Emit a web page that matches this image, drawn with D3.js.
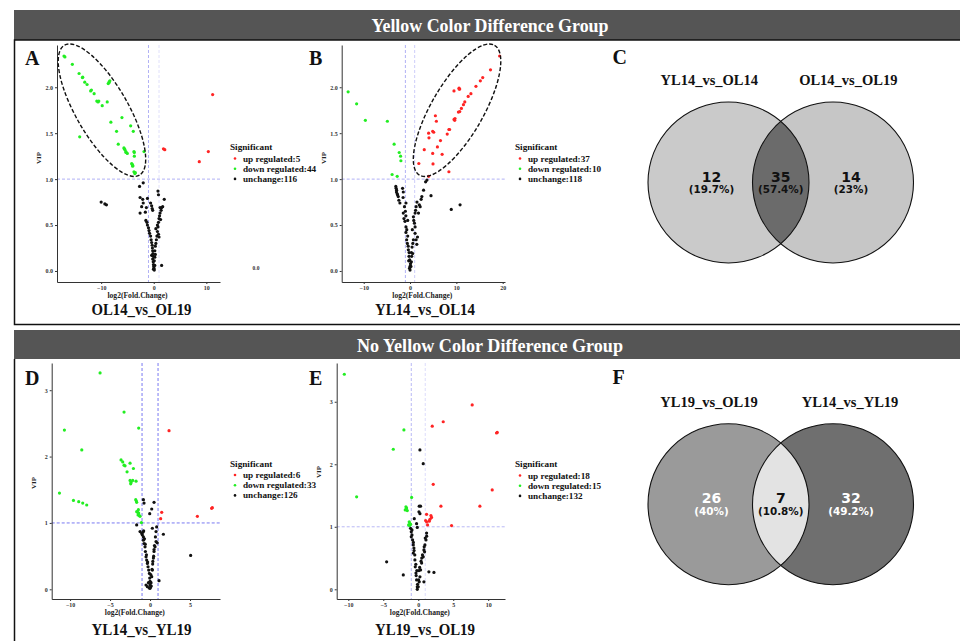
<!DOCTYPE html>
<html>
<head>
<meta charset="utf-8">
<script src="https://cdn.jsdelivr.net/npm/d3@7/dist/d3.min.js"></script>
<style>
body { margin: 0; background: #fff; }
svg text { font-family: "Liberation Serif", "Times New Roman", serif; font-weight: bold; }
svg text.venn-num { font-family: "DejaVu Sans", sans-serif; }
</style>
</head>
<body>
<svg id="chart" width="960" height="641"></svg>
<script>
// ---- data ----
var groupTitles = ['Yellow Color Difference Group', 'No Yellow Color Difference Group']
var legendLabels = ['up regulated', 'down regulated', 'unchange']
var legendColors = ['#ff2424', '#22ee22', '#111111']

// A: OL14_vs_OL19
var countsA = [5, 44, 116]
var xTicksA = [-10, 0, 10]
var yTicksA = [0, 0.5, 1, 1.5, 2]
var upA = [[11.2,1.92],[1.85,1.33],[2.1,1.32],[8.66,1.19],[10.38,1.30]]
var downA = [[-17.07,2.34],[-16.9,2.33],[-15.48,2.25],[-14.2,2.15],[-13.57,2.105],[-13.5,2.11],[-13.12,2.055],[-12.68,2.03],
    [-12.0,1.96],[-11.85,1.97],[-11.34,1.93],[-10.83,1.85],[-10.6,1.84],[-10.45,1.85],[-9.8,1.8],[-8.85,1.84],[-8.66,2.04],
    [-8.5,2.05],[-8.47,2.06],[-8.34,2.07],[-8.15,1.62],[-7.07,1.52],[-6.75,1.38],[-6.05,1.67],[-5.67,1.34],[-5.6,1.33],
    [-5.48,1.32],[-5.3,1.30],[-5.29,1.29],[-5.03,1.28],[-4.39,1.58],[-4.2,1.17],[-4.1,1.16],[-4.01,1.14],[-4.0,1.15],
    [-3.89,1.52],[-3.76,1.30],[-3.7,1.29],[-3.69,1.25],[-3.76,1.08],[-3.6,1.06],[-3.5,1.07],[-1.85,1.30],[-14.08,1.46]]
var stableA = [[-2.7,0.92],[-2.0,0.96],[-2.6,0.80],[-2.1,0.78],[-1.2,0.79],[-2.0,0.74],[-2.3,0.70],[-2.6,0.63],[-1.6,0.64],
    [-1.4,0.69],[-0.6,0.74],[-0.4,0.71],[-0.3,0.68],[-0.2,0.66],[-1.5,0.55],[-1.3,0.53],[-1.2,0.50],[-1.0,0.47],[-0.9,0.44],
    [-0.8,0.41],[-0.6,0.38],[-0.5,0.34],[-0.4,0.31],[-0.3,0.28],[-0.25,0.25],[-0.2,0.22],[-0.15,0.19],[-0.1,0.16],[-0.2,0.13],
    [-0.1,0.10],[-0.05,0.07],[0,0.05],[0.05,0.03],[-0.05,0.02],[0.1,0.01],[0.2,0.06],[0.1,0.11],[0.2,0.15],[0.3,0.18],
    [0.2,0.22],[0.3,0.27],[0.4,0.30],[0.5,0.34],[0.6,0.38],[0.7,0.43],[0.8,0.48],[0.9,0.53],[1.0,0.57],[1.1,0.60],[1.2,0.63],
    [1.4,0.66],[1.5,0.69],[1.7,0.70],[0.9,0.40],[1.0,0.37],[1.2,0.69],[0.8,0.87],[0.9,0.83],[2.0,0.78],[1.3,0.56],[0.7,0.50],
    [0.4,0.46],[1.5,0.06],[-0.4,0.17],[-10.0,0.75],[-9.3,0.73],[-9.0,0.72]]

// B: YL14_vs_OL14
var countsB = [37, 10, 118]
var xTicksB = [-10, 0, 10, 20]
var yTicksB = [0, 0.5, 1, 1.5, 2]
var upB = [[19.34,2.34],[17.37,2.19],[15.69,2.105],[15.18,2.07],[14.23,2.01],[13.14,1.93],[12.55,1.90],[11.82,1.84],
    [11.53,1.81],[11.09,1.77],[10.73,1.735],[10.44,1.73],[9.71,1.66],[9.64,1.64],[9.5,1.65],[9.49,1.96],[10.58,1.99],
    [10.6,1.98],[10.73,1.98],[8.39,1.54],[8.54,1.54],[8.03,1.49],[6.57,1.42],[5.91,1.35],[6.93,1.27],[5.47,1.69],[5.69,1.63],
    [4.89,1.52],[5.11,1.51],[4.01,1.50],[4.09,1.45],[3.07,1.32],[4.89,1.28],[4.96,1.165],[1.9,1.17],[4.01,1.03],[8.39,1.08]]
var downB = [[-13.36,1.95],[-11.53,1.82],[-9.64,1.64],[-4.89,1.63],[-3.43,1.38],[-2.34,1.29],[-2.04,1.25],[-1.97,1.20],
    [-3.87,1.05],[-2.77,1.03]]
var stableB = [[-3.07,0.92],[-2.92,0.86],[-2.77,0.84],[-2.55,0.81],[-2.41,0.77],[-2.19,0.74],[-1.61,0.90],[-1.46,0.86],
    [-0.88,0.74],[-1.46,0.63],[-1.31,0.57],[-1.09,0.54],[-0.88,0.48],[-0.88,0.42],[-0.73,0.34],[-0.58,0.30],[-0.36,0.23],
    [-0.22,0.16],[-0.07,0.12],[0,0.05],[0,0.01],[-0.29,0.11],[0.29,0.10],[0.36,0.16],[0.73,0.59],[0.95,0.52],[1.09,0.48],
    [1.09,0.41],[1.31,0.34],[1.46,0.29],[1.61,0.37],[1.82,0.63],[2.19,0.70],[2.55,0.81],[2.92,0.88],[3.36,0.97],[3.65,0.99],
    [1.09,0.63],[1.31,0.70],[4.53,0.82],[8.9,0.67],[10.8,0.72],[0.73,0.34],[0.58,0.19],[0.44,0.26],[-2.9,0.88],[-2.7,0.83],
    [-1.5,0.80],[-1.2,0.70],[-1.0,0.65],[-0.9,0.60],[-0.7,0.45],[-0.5,0.38],[-0.4,0.27],[-0.2,0.20],[0.2,0.05],[0.1,0.08],
    [-0.1,0.03],[0.5,0.45],[0.8,0.55],[1.2,0.66],[1.5,0.75],[2.0,0.72],[0.6,0.30],[0.3,0.20],[-3.0,0.90],[2.4,0.78],[-0.5,0.55]]

// D: YL14_vs_YL19
var countsD = [6, 33, 126]
var xTicksD = [-10, -5, 0, 5]
var yTicksD = [0, 1, 2, 3]
var upD = [[2.375,2.39],[1.46,1.16],[1.33,1.065],[5.92,1.10],[7.79,1.23],[7.7,1.22]]
var downD = [[-6.25,3.26],[-3.25,2.67],[-1.42,2.43],[-10.71,2.40],[-8.54,2.10],[-11.33,1.45],[-9.58,1.34],[-8.92,1.32],
    [-8.42,1.30],[-7.92,1.27],[-3.625,1.95],[-3.42,1.92],[-3.25,1.87],[-3.125,1.86],[-2.875,1.77],[-2.5,1.90],[-2.08,1.82],
    [-2.5,1.64],[-2.375,1.61],[-2.17,1.64],[-1.75,1.63],[-2.42,1.59],[-1.79,1.35],[-1.67,1.31],[-1.71,1.33],[-1.46,1.20],
    [-1.67,1.17],[-1.42,1.15],[-1.54,1.16],[-1.33,1.11],[-1.25,1.10],[-1.08,1.005],[-1.5,1.12]]
var stableD = [[-0.83,1.35],[-0.75,1.30],[0.5,1.31],[0.21,1.21],[-0.04,1.14],[-1.67,0.97],[-1.25,0.87],[-1.04,0.84],
    [-0.96,0.82],[-0.83,0.79],[-0.83,0.74],[-0.75,0.69],[-0.625,0.64],[-0.58,0.57],[-0.5,0.49],[-0.42,0.44],[-0.33,0.39],
    [-0.25,0.34],[-0.17,0.29],[-0.08,0.24],[-0.04,0.17],[0,0.12],[0,0.07],[0,0.015],[0.08,0.04],[0.83,0.94],[0.75,0.87],
    [0.67,0.79],[0.75,0.72],[0.625,0.64],[0.5,0.57],[0.42,0.47],[0.33,0.38],[0.29,0.29],[0.21,0.19],[0.125,0.10],[0.29,0.92],
    [1.67,0.83],[5.08,0.51],[1.125,0.13],[-0.5,0.065],[-0.33,0.04],[-0.9,0.86],[-0.7,0.76],[-0.6,0.68],[-0.45,0.52],
    [-0.3,0.41],[0.5,0.60],[0.55,0.66],[0.35,0.42],[0.25,0.30],[0.1,0.22],[-0.2,0.10],[0.15,0.05],[-0.1,0.02],[0.9,0.70],
    [0.45,0.50],[-0.8,0.88]]

// E: YL19_vs_OL19
var countsE = [18, 15, 132]
var xTicksE = [-10, -5, 0, 5, 10]
var yTicksE = [0, 1, 2, 3]
var upE = [[7.71,2.95],[3.57,2.68],[2.0,2.61],[11.29,2.51],[11.19,2.50],[2.14,1.68],[10.57,1.59],[8.81,1.33],[3.24,1.33],
    [4.76,1.02],[1.19,1.20],[1.81,1.18],[1.9,1.15],[1.67,1.12],[1.19,1.08],[1.33,1.03],[1.05,1.10],[1.57,1.09]]
var downE = [[-10.57,3.44],[-8.81,1.48],[-2.05,2.55],[-3.57,2.24],[-1.76,1.32],[-1.67,1.30],[-1.86,1.27],[-1.57,1.26],
    [-1.71,1.29],[-1.19,1.05],[-1.38,1.03],[-1.29,1.08],[-1.10,1.04],[-0.95,1.47],[-1.24,1.02]]
var stableE = [[0.24,2.23],[0.71,2.01],[0.14,1.33],[0.33,1.33],[0.1,1.24],[-0.24,1.05],[-0.57,1.13],[0.24,1.21],[-0.14,0.99],
    [-1.1,0.975],[-1.0,0.92],[-0.9,0.87],[-0.81,0.79],[-0.71,0.71],[-0.62,0.66],[-0.71,0.58],[-0.48,0.47],[-0.43,0.36],
    [-0.33,0.26],[-0.24,0.15],[-0.14,0.04],[-0.14,0.0],[1.19,0.90],[1.1,0.79],[0.95,0.71],[0.81,0.63],[0.71,0.52],[0.48,0.42],
    [0.33,0.31],[0.24,0.20],[0.14,0.12],[0,0.04],[-4.52,0.44],[-2.14,0.23],[1.52,0.28],[2.24,0.27],[0.81,0.12],[-0.9,0.95],
    [-0.7,0.75],[-0.5,0.55],[-0.35,0.40],[-0.2,0.30],[0.1,0.30],[0.2,0.35],[0.5,0.50],[0.6,0.55],[0.85,0.68],[1.0,0.82],
    [-0.1,0.08],[0.05,0.15],[-0.3,0.22],[0.4,0.45],[-0.6,0.62],[-1.0,0.84],[0.9,0.60],[1.2,0.85]]

// Venn diagrams
var vennNamesC = ['YL14_vs_OL14', 'OL14_vs_OL19']
var vennCountsC = [12, 35, 14]
var vennPercentsC = ['19.7%', '57.4%', '23%']
var vennNamesF = ['YL19_vs_OL19', 'YL14_vs_YL19']
var vennCountsF = [26, 7, 32]
var vennPercentsF = ['40%', '10.8%', '49.2%']

// ---- drawing ----
var svg = d3.select('#chart')

function drawFrame() {
    svg.append('rect').attr('x', 14).attr('y', 10).attr('width', 950).attr('height', 30).attr('fill', '#555')
    svg.append('rect').attr('x', 14).attr('y', 330).attr('width', 950).attr('height', 29).attr('fill', '#555')
    svg.append('rect').attr('x', 14.5).attr('y', 40).attr('width', 960).attr('height', 284.5)
        .attr('fill', 'none').attr('stroke', '#111').attr('stroke-width', 1.5)
    svg.append('line').attr('x1', 14.5).attr('x2', 14.5).attr('y1', 359).attr('y2', 641)
        .attr('stroke', '#111').attr('stroke-width', 1.5)
    svg.append('text').attr('x', 490).attr('y', 32).attr('text-anchor', 'middle')
        .attr('font-size', 19).attr('fill', '#fff').attr('textLength', 237).attr('lengthAdjust', 'spacingAndGlyphs')
        .text(groupTitles[0])
    svg.append('text').attr('x', 490).attr('y', 352).attr('text-anchor', 'middle')
        .attr('font-size', 19).attr('fill', '#fff').attr('textLength', 266).attr('lengthAdjust', 'spacingAndGlyphs')
        .text(groupTitles[1])
}

function panelLetter(letter, x, y) {
    svg.append('text').attr('x', x).attr('y', y).attr('font-size', 20).attr('fill', '#111').text(letter)
}

function drawVolcano(p) {
    var x = d3.scaleLinear().domain(p.xDomain).range(p.xRange)
    var y = d3.scaleLinear().domain(p.yDomain).range(p.yRange)
    var g = svg.append('g')
    var top = p.yRange[1], bottom = p.yRange[0]

    // thresholds
    g.append('line').attr('x1', x(-1)).attr('x2', x(-1)).attr('y1', top).attr('y2', bottom)
        .attr('stroke', p.lineColor).attr('stroke-dasharray', '3,2').attr('stroke-width', 0.9)
    g.append('line').attr('x1', x(1)).attr('x2', x(1)).attr('y1', top).attr('y2', bottom)
        .attr('stroke', p.lineColor2).attr('stroke-dasharray', '3,2').attr('stroke-width', 0.9)
    g.append('line').attr('x1', p.xRange[0]).attr('x2', p.xRange[1]).attr('y1', y(1)).attr('y2', y(1))
        .attr('stroke', p.lineColor).attr('stroke-dasharray', '3,2').attr('stroke-width', 0.9)

    var xAxis = g.append('g').attr('transform', 'translate(0,' + bottom + ')')
        .call(d3.axisBottom(x).tickValues(p.xTicks).tickSize(2).tickSizeOuter(0).tickPadding(2))
    var yAxis = g.append('g').attr('transform', 'translate(' + p.xRange[0] + ',0)')
        .call(d3.axisLeft(y).tickValues(p.yTicks).tickSize(2).tickSizeOuter(0).tickPadding(2)
            .tickFormat(d3.format(p.yFormat)))
    ;[xAxis, yAxis].forEach(function(a) {
        a.select('.domain').attr('stroke', '#333').attr('stroke-width', 1)
        a.selectAll('.tick line').attr('stroke', '#333')
        a.selectAll('.tick text').attr('font-size', 6).attr('fill', '#333')
    })

    // points
    var groups = [p.stable, p.down, p.up]
    var colors = [legendColors[2], legendColors[1], legendColors[0]]
    groups.forEach(function(pts, i) {
        g.selectAll(null).data(pts).enter().append('circle')
            .attr('cx', function(d) { return x(d[0]) })
            .attr('cy', function(d) { return y(d[1]) })
            .attr('r', 1.6)
            .attr('fill', colors[i])
    })

    if (p.ellipse) {
        var e = p.ellipse
        g.append('ellipse')
            .attr('transform', 'translate(' + x(e.cx) + ',' + y(e.cy) + ') rotate(' + e.angle + ')')
            .attr('rx', e.rx).attr('ry', e.ry)
            .attr('fill', 'none').attr('stroke', '#111').attr('stroke-width', 1.4)
            .attr('stroke-dasharray', '4,2')
    }

    // axis titles
    g.append('text').attr('x', (p.xRange[0] + p.xRange[1]) / 2 - 1).attr('y', bottom + 15.5)
        .attr('text-anchor', 'middle').attr('font-size', 7.6).attr('fill', '#222').text('log2(Fold.Change)')
    g.append('text').attr('transform', 'translate(' + (p.xRange[0] - 16) + ',' + p.vipY + ') rotate(-90)')
        .attr('text-anchor', 'middle').attr('font-size', 7).attr('fill', '#222').text('VIP')

    // legend
    var lg = g.append('g').attr('transform', 'translate(' + p.legend[0] + ',' + p.legend[1] + ')')
    lg.append('text').attr('x', 0).attr('y', 3).attr('font-size', 9.2).attr('fill', '#111').text('Significant')
    p.counts.forEach(function(c, i) {
        lg.append('circle').attr('cx', 5).attr('cy', 11.5 + i * 10.2).attr('r', 1.3).attr('fill', legendColors[i])
        lg.append('text').attr('x', 13).attr('y', 14.5 + i * 10.2).attr('font-size', 9.2).attr('fill', '#111')
            .text(legendLabels[i] + ':' + c)
    })

    svg.append('text').attr('x', p.titleX).attr('y', p.titleY).attr('text-anchor', 'middle')
        .attr('font-size', 17).attr('fill', '#111').attr('textLength', 100).attr('lengthAdjust', 'spacingAndGlyphs')
        .text(p.title)
}

function drawVenn(v) {
    var g = svg.append('g')
    var id = 'clip' + v.key
    g.append('clipPath').attr('id', id).append('circle').attr('cx', v.cx[0]).attr('cy', v.cy).attr('r', v.r)
    g.append('circle').attr('cx', v.cx[0]).attr('cy', v.cy).attr('r', v.r).attr('fill', v.fills[0])
    g.append('circle').attr('cx', v.cx[1]).attr('cy', v.cy).attr('r', v.r).attr('fill', v.fills[2])
    g.append('circle').attr('cx', v.cx[1]).attr('cy', v.cy).attr('r', v.r).attr('fill', v.fills[1])
        .attr('clip-path', 'url(#' + id + ')')
    v.cx.forEach(function(cx) {
        g.append('circle').attr('cx', cx).attr('cy', v.cy).attr('r', v.r)
            .attr('fill', 'none').attr('stroke', '#111').attr('stroke-width', 1.1)
    })
    var mid = (v.cx[0] + v.cx[1]) / 2
    var tx = [v.cx[0] - 17, mid, v.cx[1] + 18]
    v.counts.forEach(function(c, i) {
        g.append('text').attr('class', 'venn-num').attr('x', tx[i]).attr('y', v.cy - 1)
            .attr('text-anchor', 'middle').attr('font-size', 14).attr('fill', v.textColors[i]).text(c)
        g.append('text').attr('class', 'venn-num').attr('x', tx[i]).attr('y', v.cy + 10.5)
            .attr('text-anchor', 'middle').attr('font-size', 10.4).attr('fill', v.textColors[i])
            .text('(' + v.percents[i] + ')')
    })
    g.append('text').attr('x', v.labelX[0]).attr('y', v.cy - 97.5).attr('text-anchor', 'middle')
        .attr('font-size', 14.5).attr('fill', '#111').text(v.names[0])
    g.append('text').attr('x', v.labelX[1]).attr('y', v.cy - 97.5).attr('text-anchor', 'middle')
        .attr('font-size', 14.5).attr('fill', '#111').text(v.names[1])
}

drawFrame()

drawVolcano({
    title: 'OL14_vs_OL19', titleX: 141.5, titleY: 315,
    xDomain: [-18.4, 12.6], xRange: [57, 220], yDomain: [-0.12, 2.46], yRange: [282, 45],
    xTicks: xTicksA, yTicks: yTicksA, yFormat: '.1f',
    up: upA, down: downA, stable: stableA, counts: countsA,
    lineColor: '#a8a8f4', lineColor2: '#dcdcfa', vipY: 158, legend: [230, 147],
    ellipse: { cx: -9.85, cy: 1.75, rx: 75, ry: 26, angle: 60 }
})
drawVolcano({
    title: 'YL14_vs_OL14', titleX: 425, titleY: 315,
    xDomain: [-14.75, 20.5], xRange: [341.7, 505], yDomain: [-0.12, 2.46], yRange: [282, 45],
    xTicks: xTicksB, yTicks: yTicksB, yFormat: '.1f',
    up: upB, down: downB, stable: stableB, counts: countsB,
    lineColor: '#a8a8f4', lineColor2: '#c8c8f8', vipY: 158, legend: [515, 147],
    ellipse: { cx: 10.15, cy: 1.75, rx: 75, ry: 26, angle: -60 }
})
drawVolcano({
    title: 'YL14_vs_YL19', titleX: 141.5, titleY: 635,
    xDomain: [-12.3, 8.75], xRange: [51.7, 220], yDomain: [-0.146, 3.41], yRange: [599, 363],
    xTicks: xTicksD, yTicks: yTicksD, yFormat: 'd',
    up: upD, down: downD, stable: stableD, counts: countsD,
    lineColor: '#6a6af0', lineColor2: '#6a6af0', vipY: 483, legend: [230, 463.5]
})
drawVolcano({
    title: 'YL19_vs_OL19', titleX: 425, titleY: 635,
    xDomain: [-11.66, 12.4], xRange: [336.7, 505], yDomain: [-0.155, 3.62], yRange: [599, 363],
    xTicks: xTicksE, yTicks: yTicksE, yFormat: 'd',
    up: upE, down: downE, stable: stableE, counts: countsE,
    lineColor: '#b0b0f4', lineColor2: '#d8d8fa', vipY: 472, legend: [515, 464]
})

// stray label left in panel A of the original
svg.append('text').attr('x', 256).attr('y', 270).attr('text-anchor', 'middle')
    .attr('font-size', 5.5).attr('fill', '#333').text('0.0')

drawVenn({
    key: 'C', cx: [728.5, 833], cy: 182.5, r: 80.5,
    fills: ['#cacaca', '#6b6b6b', '#c6c6c6'], textColors: ['#111', '#111', '#111'],
    counts: vennCountsC, percents: vennPercentsC, names: vennNamesC, labelX: [709.3, 848.3]
})
drawVenn({
    key: 'F', cx: [728.5, 833], cy: 504.2, r: 80.5,
    fills: ['#9a9a9a', '#e3e3e3', '#6f6f6f'], textColors: ['#fff', '#111', '#fff'],
    counts: vennCountsF, percents: vennPercentsF, names: vennNamesF, labelX: [709, 850]
})

panelLetter('A', 25, 65)
panelLetter('B', 309, 65)
panelLetter('C', 612.5, 64)
panelLetter('D', 25, 385)
panelLetter('E', 309, 385)
panelLetter('F', 612.5, 384)
</script>
</body>
</html>
